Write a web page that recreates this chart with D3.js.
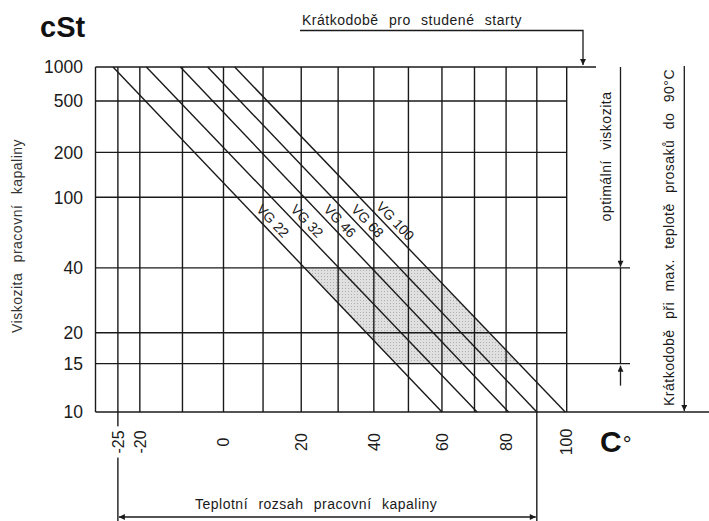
<!DOCTYPE html>
<html><head><meta charset="utf-8">
<script src="https://cdn.jsdelivr.net/npm/d3@7"></script>
<style>
body{margin:0;background:#fff;}
svg{display:block;font-family:"Liberation Sans",Arial,sans-serif;}
</style></head>
<body><svg id="c" width="709" height="521"></svg>
<script>
// ---- data ----
const gridTemps = [-30, -25, -20, -10, 0, 10, 20, 30, 40, 50, 60, 70, 80, 90, 100];
const tempTicks = [-25, -20, 0, 20, 40, 60, 80, 100];
const viscTicks = [1000, 500, 200, 100, 40, 20, 15, 10];
const grades = ["VG 22", "VG 32", "VG 46", "VG 68", "VG 100"];
const tempAt1000cSt = [-26.1, -18.5, -10.5, -3.9, 2.8];
const tempAt10cSt = [60.0, 70.8, 80.8, 90.0, 99.5];
const optimalRange = [15, 40];
const workingTempRange = [-25, 90];
const labelVisc = 66;

(function () {
// ---- layout ----
const svg = d3.select("#c");
const ink = "#1a1a1a";
const K = t => t + 273.15;
const x = d3.scaleLog().domain([K(-30), K(100)]).range([95.5, 566.7]);
const Z = v => Math.log10(Math.log10(v + 0.7));
const yl = d3.scaleLinear().domain([Z(10), Z(1000)]).range([412, 67]);
const y = v => yl(Z(v));
const xT = t => x(K(t));
const vMin = d3.min(viscTicks), vMax = d3.max(viscTicks);
const pL = xT(-30), pR = xT(100), pT = y(vMax), pB = y(vMin);

const defs = svg.append("defs");
defs.append("marker").attr("id", "arr").attr("viewBox", "0 0 10 10")
  .attr("refX", 10).attr("refY", 5).attr("markerWidth", 8).attr("markerHeight", 6)
  .attr("markerUnits", "userSpaceOnUse").attr("orient", "auto-start-reverse")
  .append("path").attr("d", "M0,0 L10,5 L0,10 z").attr("fill", ink);
const pat = defs.append("pattern").attr("id", "dots").attr("patternUnits", "userSpaceOnUse")
  .attr("width", 3).attr("height", 3);
pat.append("rect").attr("width", 3).attr("height", 3).attr("fill", "#e0e0e0");
pat.append("rect").attr("width", 1).attr("height", 1).attr("fill", "#b0b0b0");

function gradeX(i, v) {
  const x1 = xT(tempAt1000cSt[i]), x2 = xT(tempAt10cSt[i]);
  const f = (y(v) - pT) / (pB - pT);
  return x1 + (x2 - x1) * f;
}

const gi0 = 0, gi1 = grades.length - 1;
const [vLo, vHi] = optimalRange;
svg.append("path")
  .attr("d", d3.line()([[gradeX(gi0, vHi), y(vHi)], [gradeX(gi1, vHi), y(vHi)],
    [gradeX(gi1, vLo), y(vLo)], [gradeX(gi0, vLo), y(vLo)]]) + "Z")
  .attr("fill", "url(#dots)");

const g = svg.append("g").attr("stroke", ink).attr("stroke-width", 1.4).attr("fill", "none");

viscTicks.forEach(v => {
  let xe = pR;
  if (v === vMax) xe = 596;
  if (optimalRange.includes(v)) xe = 630;
  if (v === vMin) xe = 709;
  g.append("line").attr("x1", pL).attr("x2", xe).attr("y1", y(v)).attr("y2", y(v));
});
gridTemps.forEach(t => {
  g.append("line").attr("x1", xT(t)).attr("x2", xT(t)).attr("y1", pT).attr("y2", pB);
});

grades.forEach((name, i) => {
  g.append("line")
    .attr("x1", xT(tempAt1000cSt[i])).attr("y1", pT)
    .attr("x2", xT(tempAt10cSt[i])).attr("y2", pB);
  const ang = Math.atan2(pB - pT, xT(tempAt10cSt[i]) - xT(tempAt1000cSt[i])) * 180 / Math.PI;
  svg.append("text")
    .attr("transform", `translate(${gradeX(i, labelVisc)},${y(labelVisc)}) rotate(${ang})`)
    .attr("text-anchor", "middle").attr("dy", -4.5)
    .attr("font-size", 14).attr("fill", ink).text(name);
});

svg.append("g").selectAll("text").data(viscTicks).join("text")
  .attr("x", 83).attr("y", d => y(d)).attr("dy", "0.36em")
  .attr("text-anchor", "end").attr("font-size", 17.5).attr("fill", ink)
  .text(d => d);

const [wa, wb] = workingTempRange;
g.append("line").attr("x1", xT(wa)).attr("x2", xT(wa)).attr("y1", pB).attr("y2", 521);
g.append("line").attr("x1", xT(wb)).attr("x2", xT(wb)).attr("y1", pB).attr("y2", 521);
svg.append("line").attr("x1", xT(wa) + 1).attr("x2", xT(wb) - 1).attr("y1", 517).attr("y2", 517)
  .attr("stroke", ink).attr("stroke-width", 1.3)
  .attr("marker-start", "url(#arr)").attr("marker-end", "url(#arr)");
svg.append("text").attr("x", 195).attr("y", 509).attr("font-size", 14)
  .attr("letter-spacing", 0.5).attr("word-spacing", 6).attr("fill", ink)
  .text("Teplotní rozsah pracovní kapaliny");

tempTicks.forEach(t => {
  const lg = svg.append("g").attr("transform", `translate(${xT(t)},442) rotate(-90)`);
  const tx = lg.append("text").attr("text-anchor", "middle").attr("dy", "0.36em")
    .attr("font-size", 16).attr("fill", ink).text(t);
  const bb = tx.node().getBBox();
  lg.insert("rect", "text").attr("x", bb.x - 4).attr("y", bb.y).attr("width", bb.width + 8)
    .attr("height", bb.height).attr("fill", "#fff");
});

svg.append("text").attr("x", 40).attr("y", 37).attr("font-size", 29).attr("font-weight", "bold")
  .attr("fill", "#111").text("cSt");
const cl = svg.append("text").attr("x", 600).attr("y", 452).attr("fill", "#111");
cl.append("tspan").attr("font-size", 30).attr("font-weight", "bold").text("C");
cl.append("tspan").attr("font-size", 22).attr("dx", 1).text("°");

svg.append("text").attr("transform", "translate(22,236) rotate(-90)")
  .attr("text-anchor", "middle").attr("font-size", 14).attr("letter-spacing", 0.5)
  .attr("word-spacing", 6).attr("fill", "#333").text("Viskozita pracovní kapaliny");

svg.append("text").attr("x", 302).attr("y", 25).attr("font-size", 14)
  .attr("letter-spacing", 0.5).attr("word-spacing", 6).attr("fill", ink)
  .text("Krátkodobě pro studené starty");
svg.append("path").attr("d", `M300,30.5 H583 V${pT - 2}`).attr("fill", "none")
  .attr("stroke", ink).attr("stroke-width", 1.3).attr("marker-end", "url(#arr)");

const bx = 620.5;
svg.append("line").attr("x1", bx).attr("x2", bx).attr("y1", pT).attr("y2", y(vHi) - 1)
  .attr("stroke", ink).attr("stroke-width", 1.3).attr("marker-end", "url(#arr)");
svg.append("line").attr("x1", bx).attr("x2", bx).attr("y1", y(vHi)).attr("y2", y(vLo))
  .attr("stroke", ink).attr("stroke-width", 1.3);
svg.append("line").attr("x1", bx).attr("x2", bx).attr("y1", y(vLo) + 22).attr("y2", y(vLo) + 2)
  .attr("stroke", ink).attr("stroke-width", 1.3).attr("marker-end", "url(#arr)");
svg.append("text").attr("transform", `translate(611,${(93 + 220) / 2}) rotate(-90)`)
  .attr("text-anchor", "middle").attr("font-size", 14).attr("letter-spacing", 0.5)
  .attr("word-spacing", 6).attr("fill", ink).text("optimální viskozita");

const bx2 = 684.3;
svg.append("line").attr("x1", bx2).attr("x2", bx2).attr("y1", pT - 1).attr("y2", pB - 1)
  .attr("stroke", ink).attr("stroke-width", 1.3).attr("marker-end", "url(#arr)");
svg.append("text").attr("transform", `translate(674,${(67 + 408) / 2}) rotate(-90)`)
  .attr("text-anchor", "middle").attr("font-size", 14).attr("letter-spacing", 0.5)
  .attr("word-spacing", 6).attr("fill", ink).text("Krátkodobě při max. teplotě prosaků do 90°C");
})();
</script></body></html>
